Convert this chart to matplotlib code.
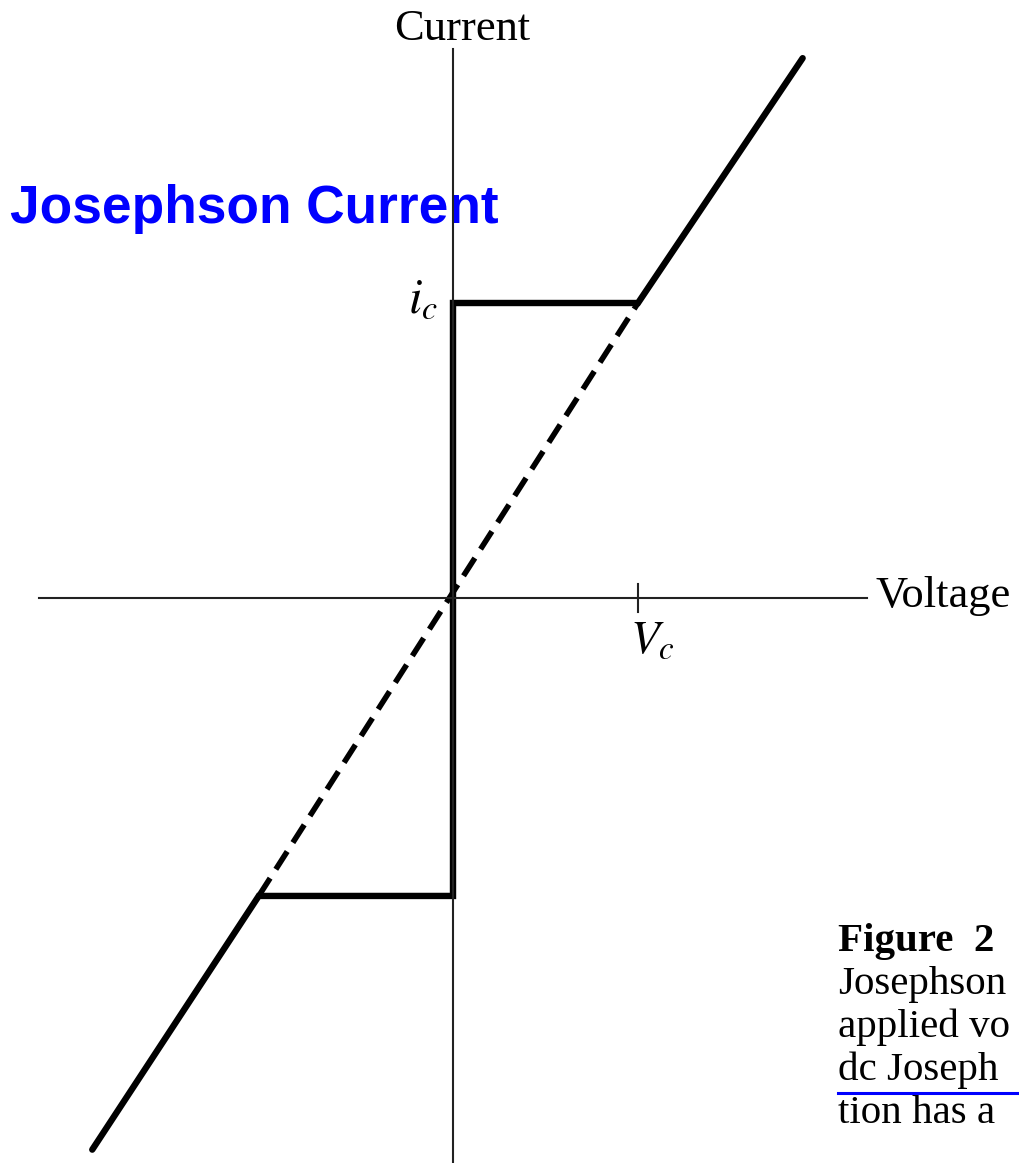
import matplotlib
matplotlib.use("Agg")
import matplotlib.pyplot as plt

plt.rcParams["mathtext.fontset"] = "stix"

# I-V characteristic of a Josephson junction (units: V_c and i_c)
branch_v = [-1.95, -1.05, 0.0, 0.0, 1.0, 1.89]
branch_i = [-1.87, -1.01, -1.01, 1.0, 1.0, 1.83]
ohmic_v = [-1.05, 1.0]
ohmic_i = [-1.01, 1.0]

axis_v_range = [-2.24, 2.24]
axis_i_range = [-1.95, 1.86]
vc_tick = 1.0

caption_lines = ["Josephson", "applied vo", "dc Joseph", "tion has a"]

W, H = 1019, 1163
fig = plt.figure(figsize=(W / 100, H / 100), dpi=100)
ax = fig.add_axes([0, 0, 1, 1])
ax.set_xlim(-453 / 185, (W - 453) / 185)
ax.set_ylim(-(H - 598) / 295, 598 / 295)
ax.axis("off")

# coordinate axes
ax.plot(axis_v_range, [0, 0], color="#222222", lw=1.5, zorder=3)
ax.plot([0, 0], axis_i_range, color="#222222", lw=1.5, zorder=3)
ax.plot([vc_tick, vc_tick], [-0.048, 0.048], color="#222222", lw=1.5, zorder=3)

# curves
ax.plot(ohmic_v, ohmic_i, color="black", lw=4.0, ls=(0, (3.8, 1.9)),
        dash_capstyle="butt", zorder=2)
ax.plot(branch_v, branch_i, color="black", lw=4.6, solid_joinstyle="miter",
        solid_capstyle="round", zorder=2)

serif = "Liberation Serif"
ax.text(0.05, (598 - 40) / 295, "Current", family=serif, fontsize=32,
        ha="center", va="baseline")
ax.text((875 - 453) / 185, (598 - 607) / 295, "Voltage", family=serif,
        fontsize=32, ha="left", va="baseline")
ax.text((438 - 453) / 185, (598 - 312) / 295, r"$i_c$", fontsize=35,
        ha="right", va="baseline")
ax.text((630 - 453) / 185, (598 - 653) / 295, r"$V_c$", fontsize=34,
        ha="left", va="baseline")

ax.text(-2.395, (598 - 223) / 295, "Josephson Current", family="Liberation Sans",
        fontweight="bold", fontsize=38.3, color="#0000ff", ha="left",
        va="baseline", zorder=1)

# caption block
fig.text(838 / W, 1 - 951 / H, "Figure  2", family=serif, fontweight="bold",
         fontsize=29.5, ha="left", va="baseline")
for k, line in enumerate(caption_lines):
    fig.text(838 / W, 1 - (994 + 43 * k) / H, line, family=serif,
             fontsize=29.5, ha="left", va="baseline")
fig.add_artist(plt.Line2D([838 / W, 1.0], [1 - 1093 / H] * 2, color="#0000ff",
                          lw=2.2, transform=fig.transFigure))

fig.savefig("out.png", dpi=100)
